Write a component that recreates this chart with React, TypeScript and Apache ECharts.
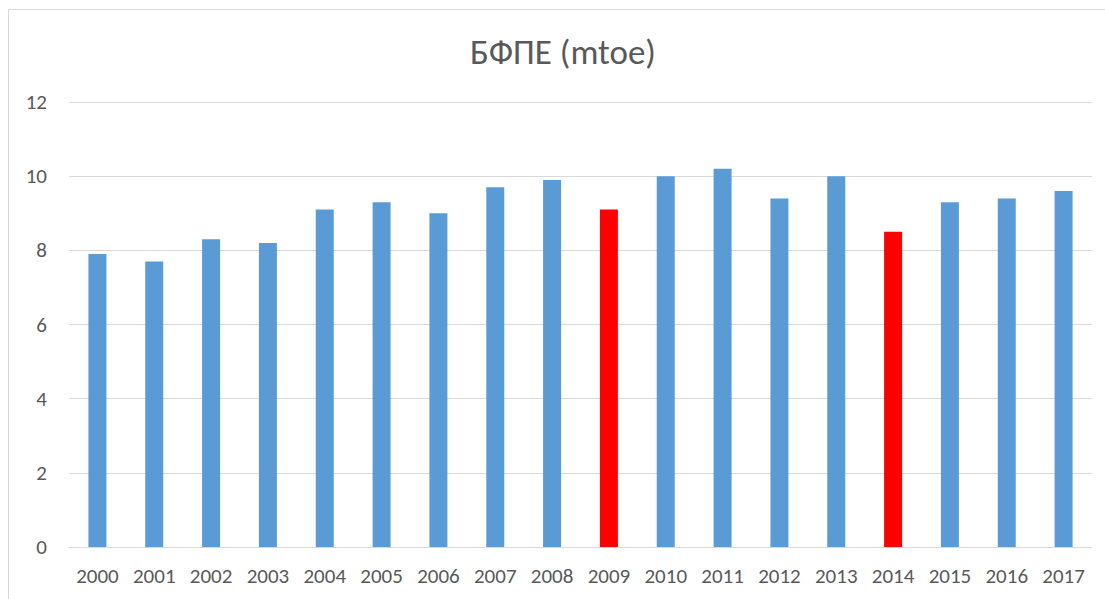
import React, { useEffect, useRef } from "react";
import * as echarts from "echarts";

const categories = ["2000","2001","2002","2003","2004","2005","2006","2007","2008","2009","2010","2011","2012","2013","2014","2015","2016","2017"];
const values = [7.9, 7.7, 8.3, 8.2, 9.1, 9.3, 9.0, 9.7, 9.9, 9.1, 10.0, 10.2, 9.4, 10.0, 8.5, 9.3, 9.4, 9.6];
const highlighted = ["2009", "2014"];
const title = "БФПЕ (mtoe)";

export default function App() {
  const ref = useRef<HTMLDivElement>(null);
  useEffect(() => {
    if (!ref.current) return;
    const chart = echarts.init(ref.current, null, { renderer: "svg" });
    const font = "Carlito, 'Open Sans', 'Liberation Sans', sans-serif";
    chart.setOption({
      animation: false,
      backgroundColor: "#ffffff",
      graphic: [
        {
          type: "rect",
          shape: { x: 8.5, y: 9.5, width: 1300, height: 800 },
          style: { fill: "none", stroke: "#d9d9d9", lineWidth: 1 },
          silent: true,
        },
        {
          type: "text",
          x: 563,
          y: 52,
          style: {
            text: title,
            fill: "#595959",
            fontSize: 35,
            fontFamily: font,
            textAlign: "center",
            textVerticalAlign: "middle",
          },
          silent: true,
        },
      ],
      grid: { left: 69, right: 13, top: 102, bottom: 52, containLabel: false },
      xAxis: {
        type: "category",
        data: categories,
        axisLine: { lineStyle: { color: "#d9d9d9", width: 1 } },
        axisTick: { show: false },
        axisLabel: { color: "#595959", fontSize: 21, margin: 18, fontFamily: font, interval: 0 },
      },
      yAxis: {
        type: "value",
        min: 0,
        max: 12,
        interval: 2,
        axisLine: { show: false },
        axisTick: { show: false },
        splitLine: { lineStyle: { color: "#d9d9d9", width: 1 } },
        axisLabel: { color: "#595959", fontSize: 21, margin: 22, fontFamily: font },
      },
      series: [
        {
          type: "bar",
          barWidth: 18,
          data: categories.map((c, i) => ({
            value: values[i],
            itemStyle: { color: highlighted.includes(c) ? "#ff0000" : "#5b9bd5" },
          })),
        },
      ],
    });
    return () => chart.dispose();
  }, []);
  return <div ref={ref} style={{ position: "absolute", left: 0, top: 0, width: 1105, height: 599 }} />;
}
